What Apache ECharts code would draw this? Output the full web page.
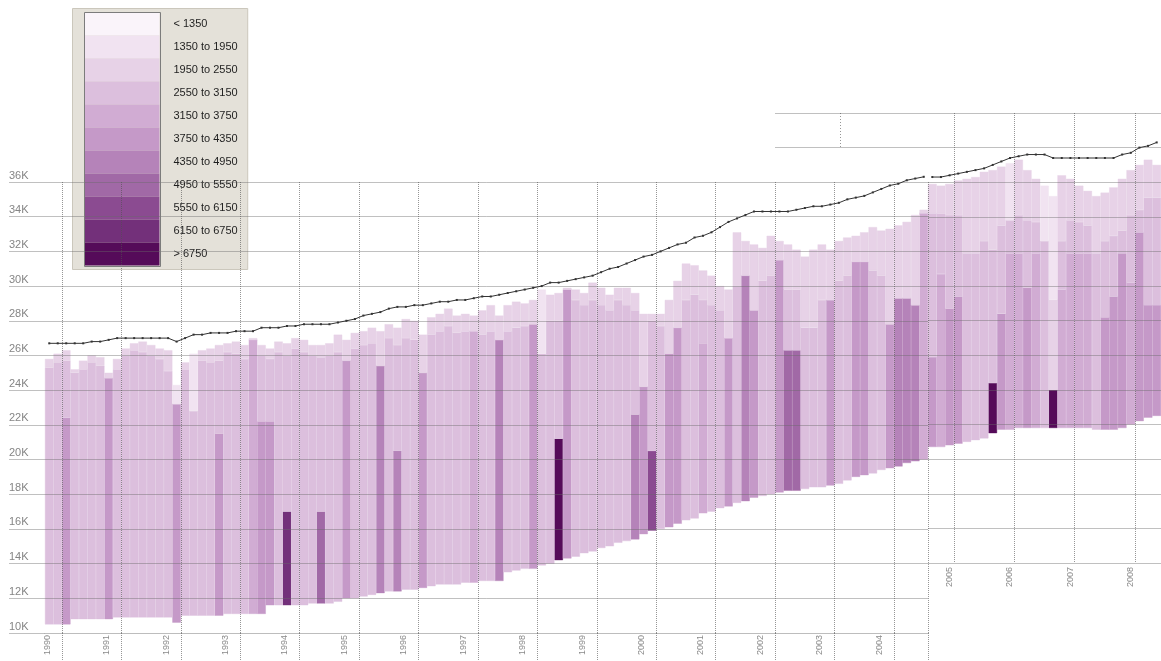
<!DOCTYPE html>
<html>
<head>
<meta charset="utf-8">
<title>Price density by period</title>
<script src="https://cdn.jsdelivr.net/npm/echarts@6/dist/echarts.min.js"></script>
<style>
  html, body { margin: 0; padding: 0; background: #ffffff; }
  #chart { width: 1161px; height: 661px; }
</style>
</head>
<body>
<div id="chart"></div>
<script>
// Year tick labels (one label every 7 periods)
const yearTicks = ['1990', '1991', '1992', '1993', '1994', '1995', '1996', '1997', '1998', '1999',
  '2000', '2001', '2002', '2003', '2004', '2005', '2006', '2007', '2008'];

// Density classes shown in the key
const densityBins = ['< 1350', '1350 to 1950', '1950 to 2550', '2550 to 3150', '3150 to 3750',
  '3750 to 4350', '4350 to 4950', '4950 to 5550', '5550 to 6150', '6150 to 6750', '> 6750'];
const binColors = ['#faf4fa', '#f1e3f1', '#e7d2e7', '#dcbfdd', '#d1acd3', '#c599c8',
  '#b583b9', '#a169a6', '#8b4b91', '#73307a', '#550b59'];

// ---- main panel (values in thousands) ----
const lowEdge = [10.5, 10.5, 10.5, 10.8, 10.8, 10.8, 10.8, 10.8, 10.9, 10.9,
  10.9, 10.9, 10.9, 10.9, 10.9, 10.6, 11.0, 11.0, 11.0, 11.0,
  11.0, 11.1, 11.1, 11.1, 11.1, 11.1, 11.6, 11.6, 11.6, 11.6,
  11.6, 11.7, 11.7, 11.7, 11.8, 12.0, 12.0, 12.1, 12.2, 12.3,
  12.4, 12.4, 12.5, 12.5, 12.6, 12.7, 12.8, 12.8, 12.8, 12.9,
  12.9, 13.0, 13.0, 13.0, 13.5, 13.6, 13.7, 13.7, 13.9, 14.0,
  14.2, 14.3, 14.4, 14.6, 14.7, 14.9, 15.0, 15.2, 15.3, 15.4,
  15.7, 15.9, 16.0, 16.1, 16.3, 16.5, 16.6, 16.9, 17.0, 17.2,
  17.3, 17.5, 17.6, 17.8, 17.9, 18.0, 18.1, 18.2, 18.2, 18.3,
  18.4, 18.4, 18.5, 18.6, 18.8, 19.0, 19.1, 19.2, 19.4, 19.5,
  19.6, 19.8, 19.9, 20.0];

// dense core at the bottom of a column (null = none)
const coreTop = [null, null, 22.4, null, null, null, null, 24.7, null, null,
  null, null, null, null, null, 23.2, null, null, null, null,
  21.5, null, null, null, 26.9, 22.2, 22.2, null, 17.0, null,
  null, null, 17.0, null, null, 25.7, null, null, null, 25.4,
  null, 20.5, null, null, 25.0, null, null, null, null, null,
  27.4, null, null, 26.9, null, null, null, 27.8, null, null,
  21.2, 29.8, null, null, null, null, null, null, null, 22.6,
  24.2, 20.5, null, 26.1, 27.6, null, null, 26.7, null, null,
  27.0, null, 30.6, 28.6, null, null, 31.5, 26.3, 26.3, null,
  null, null, 29.2, null, null, 31.4, 31.4, null, null, 27.8,
  29.3, 29.3, 28.9, 34.2];
const coreBin = [null, null, 5, null, null, null, null, 5, null, null,
  null, null, null, null, null, 5, null, null, null, null,
  5, null, null, null, 4, 5, 5, null, 9, null,
  null, null, 7, null, null, 5, null, null, null, 6,
  null, 6, null, null, 5, null, null, null, null, null,
  4, null, null, 6, null, null, null, 5, null, null,
  10, 5, null, null, null, null, null, null, null, 6,
  5, 8, null, 5, 5, null, null, 4, null, null,
  5, null, 6, 5, null, null, 5, 7, 7, null,
  null, null, 5, null, null, 5, 5, null, null, 5,
  6, 6, 6, 4];

const bodyTop = [25.3, 25.6, 25.7, 25.0, 25.2, 25.6, 25.4, 24.7, 25.2, 26.0,
  26.3, 26.2, 26.0, 25.8, 25.1, 23.2, 25.2, 22.8, 25.7, 25.6,
  25.7, 26.2, 26.1, 25.8, 26.9, 26.0, 25.8, 26.2, 26.0, 26.4,
  26.2, 26.0, 25.9, 26.0, 26.2, 25.7, 26.4, 26.6, 26.7, 25.4,
  27.0, 26.6, 27.0, 26.9, 25.0, 27.2, 27.4, 27.7, 27.3, 27.4,
  27.4, 27.2, 27.4, 26.9, 27.4, 27.6, 27.7, 27.8, 26.1, 28.0,
  28.0, 29.8, 29.2, 28.9, 29.2, 28.9, 28.6, 29.2, 28.9, 28.6,
  24.2, 28.0, 27.7, 26.1, 27.6, 29.2, 29.5, 29.2, 28.9, 28.6,
  27.0, 30.0, 30.6, 28.6, 30.3, 30.6, 31.5, 29.8, 29.8, 27.6,
  27.6, 29.2, 29.2, 30.3, 30.6, 31.4, 31.4, 30.9, 30.6, 27.8,
  29.3, 29.3, 28.9, 34.2];
const bodyBin = [3, 3, 3, 3, 3, 3, 3, 3, 3, 3,
  3, 3, 3, 3, 3, 3, 3, 3, 3, 3,
  3, 3, 3, 3, 3, 3, 3, 3, 3, 3,
  3, 3, 3, 3, 3, 3, 3, 3, 3, 3,
  3, 3, 3, 3, 3, 3, 3, 3, 3, 3,
  3, 3, 3, 3, 3, 3, 3, 3, 3, 3,
  3, 3, 3, 3, 3, 3, 3, 3, 3, 3,
  3, 3, 3, 3, 3, 3, 3, 3, 3, 3,
  3, 3, 3, 3, 3, 3, 3, 3, 3, 3,
  3, 3, 3, 3, 3, 3, 3, 3, 3, 3,
  3, 3, 3, 3];

const lightTop = [25.8, 26.1, 26.3, 25.2, 25.7, 26.0, 25.9, 25.0, 25.8, 26.4,
  26.7, 26.8, 26.6, 26.4, 26.3, 24.3, 25.6, 26.1, 26.3, 26.4,
  26.6, 26.7, 26.8, 26.6, 27.0, 26.6, 26.4, 26.8, 26.7, 27.0,
  26.9, 26.6, 26.6, 26.7, 27.2, 26.9, 27.3, 27.4, 27.6, 27.4,
  27.8, 27.6, 28.1, 28.0, 27.2, 28.2, 28.4, 28.7, 28.3, 28.4,
  28.3, 28.6, 28.9, 28.3, 28.9, 29.1, 29.0, 29.2, 29.8, 29.5,
  29.6, 29.9, 29.8, 29.6, 30.2, 29.9, 29.5, 29.9, 29.9, 29.6,
  28.4, 28.4, 28.4, 29.2, 30.3, 31.3, 31.2, 30.9, 30.6, 30.0,
  29.8, 33.1, 32.6, 32.4, 32.2, 32.9, 32.6, 32.4, 32.1, 31.7,
  32.1, 32.4, 32.1, 32.6, 32.8, 32.9, 33.1, 33.4, 33.2, 33.3,
  33.5, 33.7, 34.1, 34.4];
const lightBin = [2, 2, 2, 2, 2, 2, 2, 2, 2, 2,
  2, 2, 2, 2, 2, 1, 2, 1, 2, 2,
  2, 2, 2, 2, 2, 2, 2, 2, 2, 2,
  2, 2, 2, 2, 2, 2, 2, 2, 2, 2,
  2, 2, 2, 2, 2, 2, 2, 2, 2, 2,
  2, 2, 2, 2, 2, 2, 2, 2, 1, 2,
  2, 2, 2, 2, 2, 2, 2, 2, 2, 2,
  2, 2, 2, 2, 2, 2, 2, 2, 2, 2,
  2, 2, 2, 2, 2, 2, 2, 2, 2, 2,
  2, 2, 2, 2, 2, 2, 2, 2, 2, 2,
  2, 2, 2, 2];

const trendLine = [26.7, 26.7, 26.7, 26.7, 26.7, 26.8, 26.8, 26.9, 27.0, 27.0,
  27.0, 27.0, 27.0, 27.0, 27.0, 26.8, 27.0, 27.2, 27.2, 27.3,
  27.3, 27.3, 27.4, 27.4, 27.4, 27.6, 27.6, 27.6, 27.7, 27.7,
  27.8, 27.8, 27.8, 27.8, 27.9, 28.0, 28.1, 28.3, 28.4, 28.5,
  28.7, 28.8, 28.8, 28.9, 28.9, 29.0, 29.1, 29.1, 29.2, 29.2,
  29.3, 29.4, 29.4, 29.5, 29.6, 29.7, 29.8, 29.9, 30.0, 30.2,
  30.2, 30.3, 30.4, 30.5, 30.6, 30.8, 31.0, 31.1, 31.3, 31.5,
  31.7, 31.8, 32.0, 32.2, 32.4, 32.5, 32.8, 32.9, 33.1, 33.4,
  33.7, 33.9, 34.1, 34.3, 34.3, 34.3, 34.3, 34.3, 34.4, 34.5,
  34.6, 34.6, 34.7, 34.8, 35.0, 35.1, 35.2, 35.4, 35.6, 35.8,
  35.9, 36.1, 36.2, 36.3];

// ---- latest periods panel ----
const insetLow = [20.7, 20.7, 20.8, 20.9, 21.0, 21.1, 21.2, 21.5, 21.7, 21.7,
  21.8, 21.8, 21.8, 21.8, 21.8, 21.8, 21.8, 21.8, 21.8, 21.7,
  21.7, 21.7, 21.8, 22.0, 22.2, 22.4, 22.5];
const insetCoreTop = [25.9, 30.7, 28.7, 29.4, null, null, null, 24.4, 28.4, 31.9,
  31.9, 29.9, 31.9, null, 24.0, 29.8, 31.9, 31.9, 31.9, null,
  28.2, 29.4, 31.9, 30.2, 33.1, 28.9, 28.9];
const insetCoreBin = [5, 4, 5, 5, null, null, null, 10, 5, 4,
  4, 5, 4, null, 10, 4, 4, 4, 4, null,
  5, 5, 5, 4, 5, 5, 5];
const insetBodyTop = [34.2, 34.2, 34.1, 34.1, 31.9, 31.9, 32.6, 32.1, 33.5, 33.8,
  34.1, 33.8, 33.7, 32.6, 29.2, 32.6, 33.8, 33.7, 33.5, 31.9,
  32.6, 32.9, 33.2, 34.1, 34.4, 35.1, 35.1];
const insetBodyBin = [3, 3, 3, 3, 3, 3, 3, 3, 3, 3,
  3, 3, 3, 3, 2, 3, 3, 3, 3, 3,
  3, 3, 3, 3, 3, 3, 3];
const insetLightTop = [35.9, 35.8, 35.9, 36.1, 36.2, 36.3, 36.6, 36.7, 36.9, 37.1,
  37.3, 36.7, 36.2, 35.8, 35.2, 36.4, 36.2, 35.8, 35.5, 35.2,
  35.4, 35.7, 36.2, 36.7, 37.0, 37.3, 37.0];
const insetLightBin = [2, 2, 2, 2, 2, 2, 2, 2, 2, 1,
  2, 2, 2, 1, 1, 2, 2, 2, 2, 2,
  2, 2, 2, 2, 2, 2, 2];
const insetTrend = [36.3, 36.3, 36.4, 36.5, 36.6, 36.7, 36.8, 37.0, 37.2, 37.4,
  37.5, 37.6, 37.6, 37.6, 37.4, 37.4, 37.4, 37.4, 37.4, 37.4,
  37.4, 37.4, 37.6, 37.7, 38.0, 38.1, 38.3];

// ---- layout helpers ----
const PER_YEAR = 7;
const MAIN_N = lowEdge.length;
const mainCats = lowEdge.map((_, g) => String(g));
const insetCats = insetLow.map((_, j) => String(MAIN_N + j));
const isYearStart = g => g >= 1 && (g - 1) % PER_YEAR === 0;
const isYearEdge = g => g >= 2 && (g - 2) % PER_YEAR === 0;
const yearLabel = g => (isYearStart(g) ? (yearTicks[(g - 1) / PER_YEAR] || '') : '');

const FONT = 'Liberation Sans, Arial, sans-serif';
const gridLineColor = 'rgba(105,105,105,0.42)';
const dotLineColor = 'rgba(80,80,80,0.6)';

function columnSeries(low, cTop, cBin, bTop, bBin, lTop, lBin, axis, stackId) {
  const common = {
    type: 'bar', stack: stackId, xAxisIndex: axis, yAxisIndex: axis,
    barCategoryGap: '0%', silent: true, animation: false
  };
  const seg = (h, bin) => ({
    value: Math.max(0, +h.toFixed(3)),
    itemStyle: { color: binColors[bin], borderColor: binColors[bin], borderWidth: 0.4 }
  });
  return [
    Object.assign({}, common, { data: low.slice(), itemStyle: { color: 'rgba(0,0,0,0)' } }),
    Object.assign({}, common, { data: low.map((v, i) => cTop[i] == null ? { value: 0, itemStyle: { color: 'rgba(0,0,0,0)' } } : seg(cTop[i] - v, cBin[i])) }),
    Object.assign({}, common, { data: low.map((v, i) => seg(bTop[i] - (cTop[i] == null ? v : cTop[i]), bBin[i])) }),
    Object.assign({}, common, { data: low.map((v, i) => seg(lTop[i] - bTop[i], lBin[i])) })
  ];
}

function trendSeries(data, axis) {
  return {
    type: 'line', data: data, xAxisIndex: axis, yAxisIndex: axis,
    symbol: 'rect', symbolSize: [2, 2], showAllSymbol: true,
    lineStyle: { color: '#333333', width: 1 }, itemStyle: { color: '#333333' },
    clip: false, z: 10, silent: true, animation: false
  };
}

const xLabelBase = { rotate: 90, fontSize: 9, color: '#8a8a8a', fontFamily: FONT, margin: 2 };

const option = {
  backgroundColor: '#ffffff',
  animation: false,
  textStyle: { fontFamily: FONT },
  grid: [
    { left: 45, top: 182, width: 883, height: 451 },
    { left: 928, top: 113, width: 233, height: 450, show: true, backgroundColor: '#ffffff', borderWidth: 0 }
  ],
  xAxis: [
    {
      type: 'category', gridIndex: 0, data: mainCats, z: 5,
      axisLine: { show: true, lineStyle: { color: '#bdbdbd' } },
      axisTick: { show: true, length: 28, interval: (i) => isYearEdge(i), lineStyle: { color: dotLineColor, type: 'dotted' } },
      splitLine: { show: true, interval: (i) => isYearEdge(i), lineStyle: { color: dotLineColor, type: 'dotted' } },
      axisLabel: Object.assign({}, xLabelBase, {
        interval: (i) => isYearStart(i), verticalAlign: 'bottom', padding: [0, 0, 6, 0],
        formatter: (v, i) => yearLabel(i)
      })
    },
    {
      type: 'category', gridIndex: 1, data: insetCats, z: 5,
      axisLine: { show: false },
      axisTick: { show: false },
      splitLine: { show: true, interval: (i) => isYearEdge(MAIN_N + i), lineStyle: { color: dotLineColor, type: 'dotted' } },
      axisLabel: Object.assign({}, xLabelBase, {
        interval: (i) => isYearStart(MAIN_N + i), margin: 4,
        formatter: (v, i) => yearLabel(MAIN_N + i)
      })
    }
  ],
  yAxis: [
    {
      type: 'value', gridIndex: 0, min: 10, max: 36, interval: 2, z: 5,
      axisLine: { show: false },
      axisTick: { show: true, length: 36, lineStyle: { color: gridLineColor } },
      splitLine: { show: true, lineStyle: { color: gridLineColor } },
      axisLabel: {
        color: '#858585', fontSize: 11, fontFamily: FONT, margin: 36, align: 'left',
        verticalAlign: 'bottom', padding: [0, 0, 1, 0], formatter: (v) => v + 'K'
      }
    },
    {
      type: 'value', gridIndex: 1, min: 14, max: 40, interval: 2, z: 5,
      axisLine: { show: false }, axisTick: { show: false }, axisLabel: { show: false },
      splitLine: { show: true, lineStyle: { color: gridLineColor } }
    }
  ],
  visualMap: {
    type: 'piecewise', seriesIndex: [], orient: 'vertical', inverse: true, selectedMode: false, hoverLink: false,
    left: 72, top: 8, itemWidth: 75, itemHeight: 23, itemGap: 0, itemSymbol: 'rect', textGap: 14,
    padding: [4, 10, 4, 12], backgroundColor: '#e4e1d9', borderColor: '#cbc7bc', borderWidth: 1,
    textStyle: { color: '#1e1e1e', fontSize: 11, fontFamily: 'Liberation Sans Narrow, Liberation Sans, sans-serif' },
    pieces: densityBins.map((label, k) => ({ min: k, max: k, label: label, color: binColors[k] }))
  },
  graphic: [
    { type: 'rect', z: 20, silent: true, shape: { x: 84.5, y: 12.5, width: 76, height: 254 }, style: { fill: 'none', stroke: '#7c7c7c', lineWidth: 1 } },
    { type: 'line', z: 1, silent: true, shape: { x1: 775, y1: 113.5, x2: 928, y2: 113.5 }, style: { stroke: gridLineColor, lineWidth: 1 } },
    { type: 'line', z: 1, silent: true, shape: { x1: 775, y1: 147.5, x2: 928, y2: 147.5 }, style: { stroke: gridLineColor, lineWidth: 1 } },
    { type: 'line', z: 1, silent: true, shape: { x1: 840.5, y1: 113, x2: 840.5, y2: 148 }, style: { stroke: dotLineColor, lineWidth: 1, lineDash: [1, 2] } }
  ],
  series: [].concat(
    columnSeries(lowEdge, coreTop, coreBin, bodyTop, bodyBin, lightTop, lightBin, 0, 'main'),
    [trendSeries(trendLine, 0)],
    columnSeries(insetLow, insetCoreTop, insetCoreBin, insetBodyTop, insetBodyBin, insetLightTop, insetLightBin, 1, 'inset'),
    [trendSeries(insetTrend, 1)]
  )
};

const chart = echarts.init(document.getElementById('chart'));
chart.setOption(option);
</script>
</body>
</html>
